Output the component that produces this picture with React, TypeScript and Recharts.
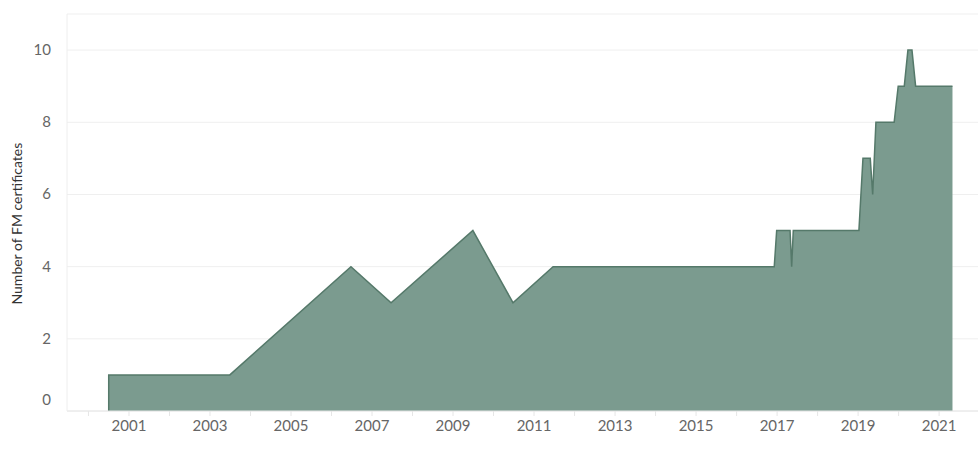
import React from 'react';
import { AreaChart, Area, XAxis, YAxis, CartesianGrid } from 'recharts';

// Dates as decimal years
const dates = [
  2000.5, 2000.5, 2003.49, 2006.48, 2007.47, 2009.49, 2010.48, 2011.47,
  2016.93, 2016.99, 2017.32, 2017.36, 2017.4, 2019.02, 2019.12, 2019.3,
  2019.36, 2019.44, 2019.89, 2019.99, 2020.14, 2020.23, 2020.33, 2020.42, 2021.33,
];
const counts = [
  0, 1, 1, 4, 3, 5, 3, 4,
  4, 5, 5, 4, 5, 5, 7, 7,
  6, 8, 8, 9, 9, 10, 10, 9, 9,
];
const yearTicks = [
  2000, 2001, 2002, 2003, 2004, 2005, 2006, 2007, 2008, 2009, 2010, 2011,
  2012, 2013, 2014, 2015, 2016, 2017, 2018, 2019, 2020, 2021,
];
const countTicks = [0, 2, 4, 6, 8, 10];

const data = dates.map((d, i) => ({ date: d, count: counts[i] }));

const FONT = 'Lato, "Open Sans", sans-serif';

// Tableau lifts the bottom label so it clears the axis
const YTick = ({ x, y, payload }: any) => (
  <text
    x={x}
    y={payload.value === 0 ? y - 11 : y}
    dy={5}
    textAnchor="end"
    fill="#666"
    fontSize={15}
    fontFamily={FONT}
  >
    {payload.value}
  </text>
);

export default function App() {
  return (
    <div style={{ position: 'absolute', top: 0, left: 0, width: 978, height: 449, overflow: 'hidden', background: '#fff' }}>
      <AreaChart
        width={978}
        height={470}
        data={data}
        margin={{ top: 14, right: 0, bottom: 0, left: 0 }}
      >
        <CartesianGrid horizontal vertical={false} stroke="#efefef" />
        <XAxis
          dataKey="date"
          type="number"
          domain={[1999.47, 2021.96]}
          ticks={yearTicks}
          allowDataOverflow
          height={59}
          axisLine={{ stroke: '#e6e6e6' }}
          tickLine={{ stroke: '#e6e6e6' }}
          tickSize={5}
          tick={{ fill: '#666', fontSize: 15, fontFamily: FONT }}
          tickFormatter={(v: number) => (v % 2 === 1 ? String(v) : '')}
          tickMargin={4}
          interval={0}
        />
        <YAxis
          type="number"
          domain={[0, 11]}
          ticks={countTicks}
          width={67}
          axisLine={{ stroke: '#eeeeee' }}
          tickLine={false}
          tick={<YTick />}
          tickMargin={10}
          label={{
            value: 'Number of FM certificates',
            angle: -90,
            position: 'insideLeft',
            dx: 12,
            dy: 92,
            style: { fill: '#333', fontSize: 14, fontFamily: FONT },
          }}
        />
        <Area
          type="linear"
          dataKey="count"
          stroke="#55796a"
          strokeWidth={1.5}
          fill="#7b9b8f"
          fillOpacity={1}
          isAnimationActive={false}
          dot={false}
          activeDot={false}
        />
        <text x={828} y={459} textAnchor="middle" fill="#aaa" fontSize={13} fontFamily={FONT}>
          Date
        </text>
      </AreaChart>
    </div>
  );
}
